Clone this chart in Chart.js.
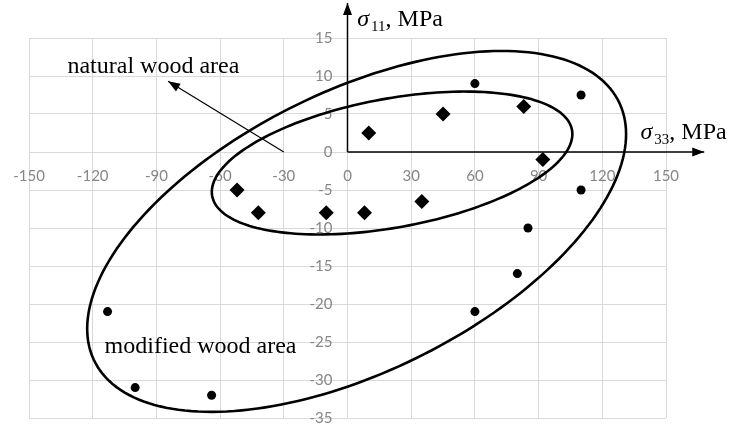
<!DOCTYPE html>
<html>
<head>
<meta charset="utf-8">
<script src="https://cdn.jsdelivr.net/npm/chart.js@4.4.0/dist/chart.umd.min.js"></script>
<style>
  body { margin: 0; background: #fff; }
  canvas { display: block; }
</style>
</head>
<body>
<canvas id="stressChart" width="737" height="426"></canvas>
<script>
// natural wood (diamonds): sigma33, sigma11 in MPa
const naturalX = [-52, -42, -10, 8, 35, 10, 45, 83, 92];
const naturalY = [-5, -8, -8, -8, -6.5, 2.5, 5, 6, -1];
// modified wood (circles)
const modifiedX = [60, 110, 110, 85, 80, 60, -113, -100, -64];
const modifiedY = [9, 7.5, -5, -10, -16, -21, -21, -31, -32];

const xTicks = [-150, -120, -90, -60, -30, 0, 30, 60, 90, 120, 150];
const yTicks = [15, 10, 5, 0, -5, -10, -15, -20, -25, -30, -35];

// area outlines in data units: centre, conjugate half-diameters
const areas = [
  { cx: 21, cy: -1.45, ux: 84.9, uy: 3.8, vy: 8.6 },
  { cx: 4.3, cy: -10.45, ux: 126.9, uy: 12.8, vy: 20.0 }
];

const toPoints = (xs, ys) => xs.map((x, i) => ({ x: x, y: ys[i] }));

const overlay = {
  id: 'overlay',
  afterDraw(chart) {
    const { ctx } = chart;
    const xs = chart.scales.x, ys = chart.scales.y;
    const px = v => xs.getPixelForValue(v);
    const py = v => ys.getPixelForValue(v);
    const x0 = px(0), y0 = py(0);

    ctx.save();
    // tick labels next to the axes
    ctx.fillStyle = '#868686';
    ctx.font = '15px Lato';
    ctx.textAlign = 'center';
    ctx.textBaseline = 'middle';
    xTicks.forEach(t => ctx.fillText(String(t), px(t), y0 + 24));
    ctx.textAlign = 'right';
    yTicks.forEach(t => ctx.fillText(String(t), x0 - 15, py(t)));

    // area outlines
    ctx.strokeStyle = '#000';
    ctx.lineWidth = 2.6;
    areas.forEach(a => {
      ctx.beginPath();
      for (let i = 0; i <= 200; i++) {
        const t = i / 200 * Math.PI * 2;
        const dx = a.ux * Math.cos(t);
        const dy = a.uy * Math.cos(t) + a.vy * Math.sin(t);
        const X = px(a.cx + dx), Y = py(a.cy + dy);
        if (i === 0) ctx.moveTo(X, Y); else ctx.lineTo(X, Y);
      }
      ctx.closePath();
      ctx.stroke();
    });

    // axes with arrows
    const arrow = (xa, ya, xb, yb, w, len, half) => {
      ctx.lineWidth = w;
      ctx.beginPath();
      ctx.moveTo(xa, ya);
      ctx.lineTo(xb, yb);
      ctx.stroke();
      const ang = Math.atan2(yb - ya, xb - xa);
      ctx.beginPath();
      ctx.moveTo(xb, yb);
      ctx.lineTo(xb - len * Math.cos(ang) + half * Math.sin(ang), yb - len * Math.sin(ang) - half * Math.cos(ang));
      ctx.lineTo(xb - len * Math.cos(ang) - half * Math.sin(ang), yb - len * Math.sin(ang) + half * Math.cos(ang));
      ctx.closePath();
      ctx.fill();
    };
    ctx.fillStyle = '#000';
    arrow(x0, y0, px(168), y0, 1.5, 12, 4.5);
    arrow(x0, y0, x0, py(19.6), 1.5, 12, 4.5);
    arrow(px(-30), py(0), px(-84.5), py(9.3), 1.2, 12, 4.5);

    // texts
    ctx.textAlign = 'left';
    ctx.textBaseline = 'alphabetic';
    const sigma = (x, y, sub) => {
      ctx.font = 'italic 24px "Liberation Serif"';
      ctx.fillText('σ', x, y);
      let w = ctx.measureText('σ').width + 2;
      ctx.font = '15px "Liberation Serif"';
      ctx.fillText(sub, x + w, y + 5);
      w += ctx.measureText(sub).width;
      ctx.font = '24px "Liberation Serif"';
      ctx.fillText(', MPa', x + w, y);
    };
    sigma(px(4.6), py(16.6), '11');
    sigma(px(138), py(1.67), '33');
    ctx.font = '24px "Liberation Serif"';
    ctx.fillText('natural wood area', px(-131.9), py(10.4));
    ctx.fillText('modified wood area', px(-114.4), py(-26.4));
    ctx.restore();
  }
};

new Chart(document.getElementById('stressChart'), {
  type: 'scatter',
  data: {
    datasets: [
      {
        label: 'natural wood',
        data: toPoints(naturalX, naturalY),
        pointStyle: 'rectRot',
        pointRadius: 7.5,
        backgroundColor: '#000',
        borderColor: '#000',
        borderWidth: 0
      },
      {
        label: 'modified wood',
        data: toPoints(modifiedX, modifiedY),
        pointStyle: 'circle',
        pointRadius: 4.5,
        backgroundColor: '#000',
        borderColor: '#000',
        borderWidth: 0
      }
    ]
  },
  options: {
    responsive: false,
    animation: false,
    layout: { padding: { left: 29, right: 71, top: 38, bottom: 8 } },
    plugins: { legend: { display: false }, tooltip: { enabled: false } },
    scales: {
      x: {
        min: -150, max: 150,
        ticks: { display: false, stepSize: 30 },
        grid: { color: '#d9d9d9', lineWidth: 1, drawTicks: false },
        border: { display: false }
      },
      y: {
        min: -35, max: 15,
        ticks: { display: false, stepSize: 5 },
        grid: { color: '#d9d9d9', lineWidth: 1, drawTicks: false },
        border: { display: false }
      }
    }
  },
  plugins: [overlay]
});
</script>
</body>
</html>
